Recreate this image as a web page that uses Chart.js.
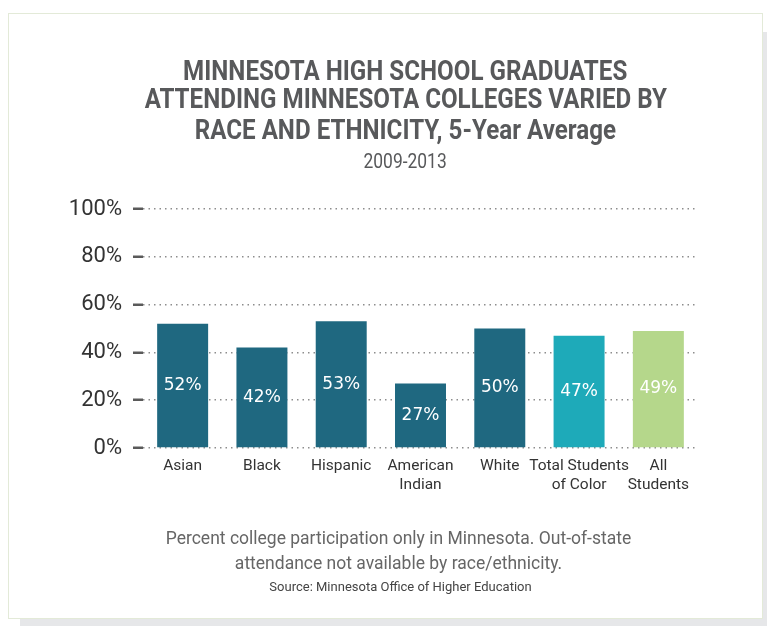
<!DOCTYPE html>
<html>
<head>
<meta charset="utf-8">
<script src="https://cdn.jsdelivr.net/npm/chart.js@4"></script>
<style>
    body { margin: 0; width: 767px; height: 626px; position: relative; background: #fff; overflow: hidden; }
    .shadow { position: absolute; left: 20px; top: 32px; width: 747px; height: 594px; background: #e6e7e9; }
    .card { position: absolute; left: 8px; top: 13px; width: 753px; height: 604px; background: #fff; border: 1.5px solid #e3ead8; }
    canvas { position: absolute; left: 0; top: 0; }
    .line { position: absolute; left: 0; width: 767px; text-align: center; line-height: 1; white-space: nowrap; }
    .line span { display: inline-block; }
    .title { font: bold 27px Roboto, sans-serif; color: #58595b; }
    .title span { transform: scaleX(0.895); }
    .sub { font: 21px Roboto, sans-serif; color: #58595b; }
    .sub span { transform: scaleX(0.83); }
    .note { font: 17.5px Roboto, sans-serif; color: #666; }
    .source { font: 13px Roboto, sans-serif; color: #444; }
</style>
</head>
<body>
<div class="shadow"></div>
<div class="card"></div>
<canvas id="collegeChart" width="767" height="626"></canvas>

<div class="line title" style="top:55px; left:22px"><span>MINNESOTA HIGH SCHOOL GRADUATES</span></div>
<div class="line title" style="top:83px; left:22px"><span>ATTENDING MINNESOTA COLLEGES VARIED BY</span></div>
<div class="line title" style="top:114px; left:22px"><span>RACE AND ETHNICITY, 5-Year Average</span></div>
<div class="line sub" style="top:149px; left:22px"><span>2009-2013</span></div>

<div class="line note" style="top:528px; left:15px">Percent college participation only in Minnesota. Out-of-state</div>
<div class="line note" style="top:553px; left:15px">attendance not available by race/ethnicity.</div>
<div class="line source" style="top:579px; left:17px">Source: Minnesota Office of Higher Education</div>

<script>
const groups = ['Asian', 'Black', 'Hispanic', ['American', 'Indian'], 'White', ['Total Students', 'of Color'], ['All', 'Students']];
const participation = [52, 42, 53, 27, 50, 47, 49];
const yTicks = [0, 20, 40, 60, 80, 100];

const darkTeal = '#1f6880';
const barColors = [darkTeal, darkTeal, darkTeal, darkTeal, darkTeal, '#1eaab9', '#b5d78b'];

// white % labels in the middle of each bar
const valueLabels = {
    id: 'valueLabels',
    afterDatasetsDraw(chart) {
        const ctx = chart.ctx;
        const meta = chart.getDatasetMeta(0);
        ctx.save();
        ctx.font = '17px "DejaVu Sans", sans-serif';
        ctx.fillStyle = '#ffffff';
        ctx.textAlign = 'center';
        ctx.textBaseline = 'middle';
        meta.data.forEach((bar, i) => {
            ctx.fillText(participation[i] + '%', bar.x, (bar.y + bar.base) / 2);
        });
        ctx.restore();
    }
};

new Chart(document.getElementById('collegeChart').getContext('2d'), {
    type: 'bar',
    data: {
        labels: groups,
        datasets: [{
            data: participation,
            backgroundColor: barColors,
            borderWidth: 0,
            barPercentage: 0.643,
            categoryPercentage: 1
        }]
    },
    options: {
        responsive: false,
        animation: false,
        layout: {
            padding: { left: 63, right: 69, top: 209, bottom: 128 }
        },
        plugins: {
            legend: { display: false },
            tooltip: { enabled: false }
        },
        scales: {
            x: {
                grid: { display: false, drawTicks: false },
                border: { display: false },
                ticks: {
                    color: '#333',
                    font: { family: 'Roboto', size: 15.5 },
                    padding: 9,
                    maxRotation: 0,
                    autoSkip: false
                },
                afterFit: axis => { axis.height = 50; }
            },
            y: {
                min: 0,
                max: 100,
                afterBuildTicks: axis => { axis.ticks = yTicks.map(v => ({ value: v })); },
                grid: {
                    color: '#8d8d8d',
                    lineWidth: 1.5,
                    tickColor: '#5a5a5a',
                    tickWidth: 2.5,
                    tickLength: 10,
                    tickBorderDash: []
                },
                border: { display: false, dash: [1.5, 4] },
                ticks: {
                    color: '#333',
                    font: { family: 'Roboto', size: 22 },
                    padding: 11,
                    callback: v => v + '%'
                },
                afterFit: axis => { axis.width = 80; }
            }
        }
    },
    plugins: [valueLabels]
});
</script>
</body>
</html>
